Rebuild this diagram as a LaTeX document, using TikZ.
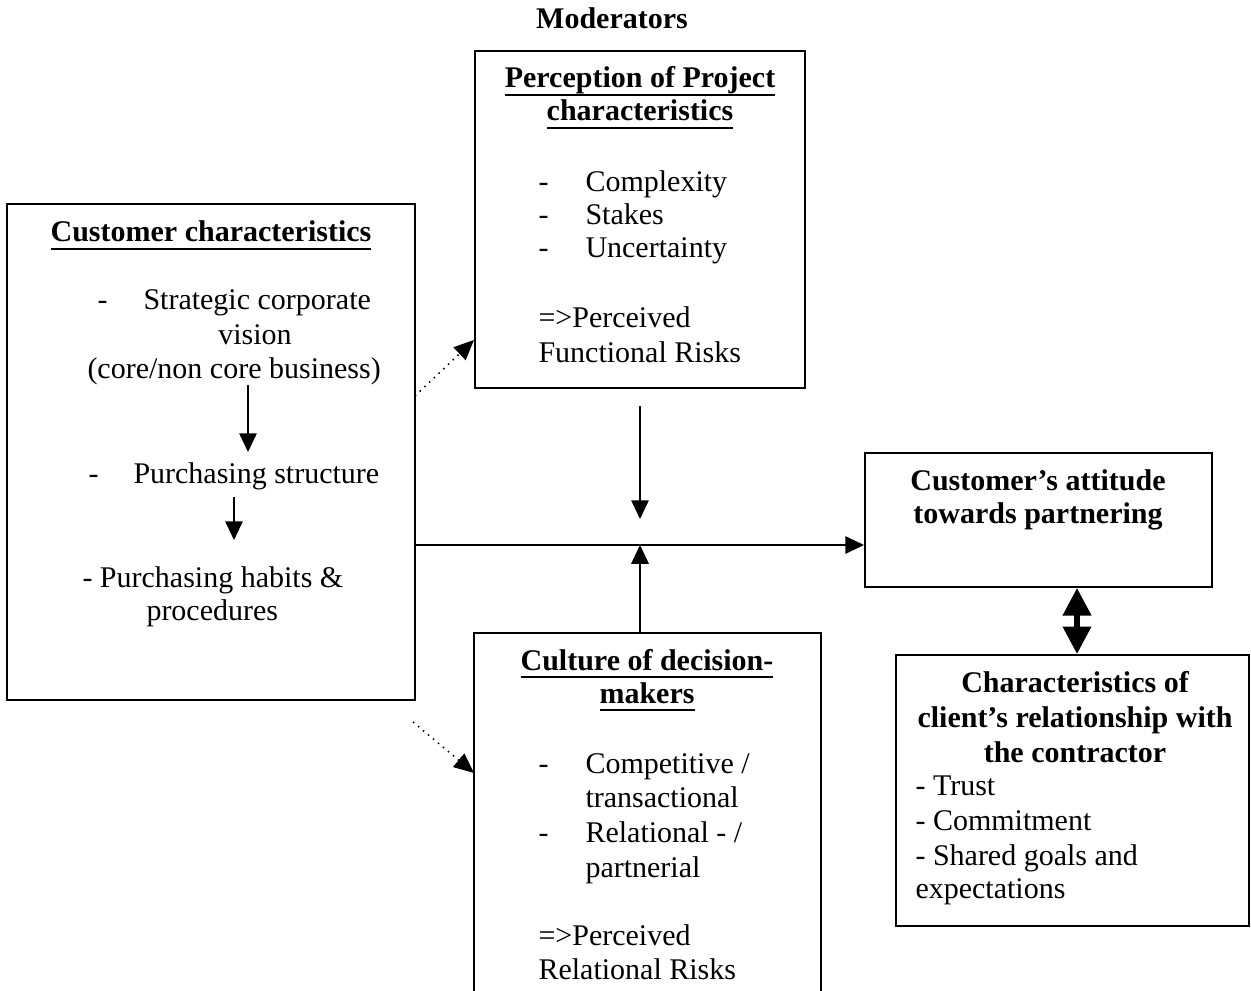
\documentclass[tikz,border=0pt]{standalone}
\usepackage{fontspec}
\setmainfont{Liberation Serif}
\usetikzlibrary{arrows.meta}

% thicker, lower underline as in the word-processor original
\newcommand{\uln}[1]{\setbox0\hbox{#1}\rlap{\rule[-3.1pt]{\wd0}{0.8pt}}\box0}

\tikzset{
  box/.style={draw,line width=0.8pt,inner sep=0pt},
  txt/.style={inner sep=0pt,anchor=base west,font=\fontsize{12}{13.8}\selectfont},
  ttl/.style={inner sep=0pt,anchor=base,font=\fontsize{12}{13.8}\selectfont\bfseries},
  arr/.style={line width=0.6pt,-{Triangle[length=7.5pt,width=7pt]}},
  dots/.style={line width=0.6pt,dotted,-{Triangle[length=8pt,width=7pt]}},
  dbl/.style={line width=2.2pt,{Triangle[length=11pt,width=11pt]}-{Triangle[length=11pt,width=11pt]}}
}

\begin{document}
\begin{tikzpicture}[x=0.4pt,y=-0.4pt,line cap=butt,line join=miter]
  \useasboundingbox (0,0) rectangle (1251,991);
  \clip (0,0) rectangle (1251,991);

  % boxes
  \node[box,minimum width=163.2pt,minimum height=198.4pt] (cust) at (211,452) {};
  \node[box,minimum width=132pt,minimum height=134.8pt] (proj) at (640,219.5) {};
  \node[box,minimum width=138.8pt,minimum height=53.6pt] (att) at (1038.5,520) {};
  \node[box,minimum width=141.2pt,minimum height=108.4pt] (rel) at (1072.5,790.5) {};
  \node[box,minimum width=138.8pt,minimum height=150.8pt] (cult) at (647.5,821.5) {};

  \node[ttl] (mod) at (612,29) {Moderators};

  % customer characteristics
  \node[ttl] (custt) at (211,242) {\uln{Customer characteristics}};
  \node[txt] (cd1) at (97,310) {-};
  \node[txt] (cs1) at (143,310) {Strategic corporate};
  \node[txt,anchor=base] (cs2) at (255,345) {vision};
  \node[txt] (cs3) at (87,378) {(core/non core business)};
  \node[txt] (cd2) at (88,483) {-};
  \node[txt] (cs4) at (133,483) {Purchasing structure};
  \node[txt] (cs5) at (82,587) {- Purchasing habits \&};
  \node[txt] (cs6) at (146,620) {procedures};

  % project characteristics
  \node[ttl] (projt1) at (640,88) {\uln{Perception of Project}};
  \node[ttl] (projt2) at (640,121) {\uln{characteristics}};
  \foreach \t/\y [count=\i] in {Complexity/192,Stakes/225,Uncertainty/258}{
    \node[txt] (pd\i) at (538,\y) {-};
    \node[txt] (pc\i) at (585,\y) {\t};
  }
  \node[txt] (pr1) at (538,328) {=>Perceived};
  \node[txt] (pr2) at (538,363) {Functional Risks};

  % culture
  \node[ttl] (cultt1) at (647,670) {\uln{Culture of decision-}};
  \node[ttl] (cultt2) at (647,703) {\uln{makers}};
  \node[txt] (kd1) at (538,773) {-};
  \node[txt] (kc1) at (585,773) {Competitive /};
  \node[txt] (kc2) at (585,807) {transactional};
  \node[txt] (kd2) at (538,842) {-};
  \node[txt] (kc3) at (585,842) {Relational - /};
  \node[txt] (kc4) at (585,877) {partnerial};
  \node[txt] (kr1) at (538,945) {=>Perceived};
  \node[txt] (kr2) at (538,979) {Relational Risks};

  % attitude and relationship
  \node[ttl] (att1) at (1038,490) {Customer’s attitude};
  \node[ttl] (att2) at (1038,523) {towards partnering};
  \node[ttl] (rel1) at (1075,692) {Characteristics of};
  \node[ttl] (rel2) at (1075,727) {client’s relationship with};
  \node[ttl] (rel3) at (1075,762) {the contractor};
  \node[txt] (rl1) at (915,795) {- Trust};
  \node[txt] (rl2) at (915,830) {- Commitment};
  \node[txt] (rl3) at (915,865) {- Shared goals and};
  \node[txt] (rl4) at (915,898) {expectations};

  % connectors
  \coordinate (mid) at (640,545);
  \coordinate (dtop) at (640,406);
  \coordinate (dend) at (640,519);
  \coordinate (dx) at (1077,0);
  \coordinate (a1) at (248,385);
  \coordinate (a2) at (248,452);
  \coordinate (b1) at (234,497);
  \coordinate (b2) at (234,540);
  \coordinate (p1) at (415,396);
  \coordinate (p2) at (474,340);
  \coordinate (q1) at (413,722);
  \coordinate (q2) at (474,773);

  \draw[arr] (cust.east |- mid) -- (att.west |- mid);
  \draw[arr] (dtop) -- (dend);
  \draw[arr] (cult.north -| mid) -- (mid);
  \draw[arr] (a1) -- (a2);
  \draw[arr] (b1) -- (b2);
  \draw[dots] (p1) -- (p2);
  \draw[dots] (q1) -- (q2);
  \draw[dbl] (att.south -| dx) -- (rel.north -| dx);
\end{tikzpicture}
\end{document}
